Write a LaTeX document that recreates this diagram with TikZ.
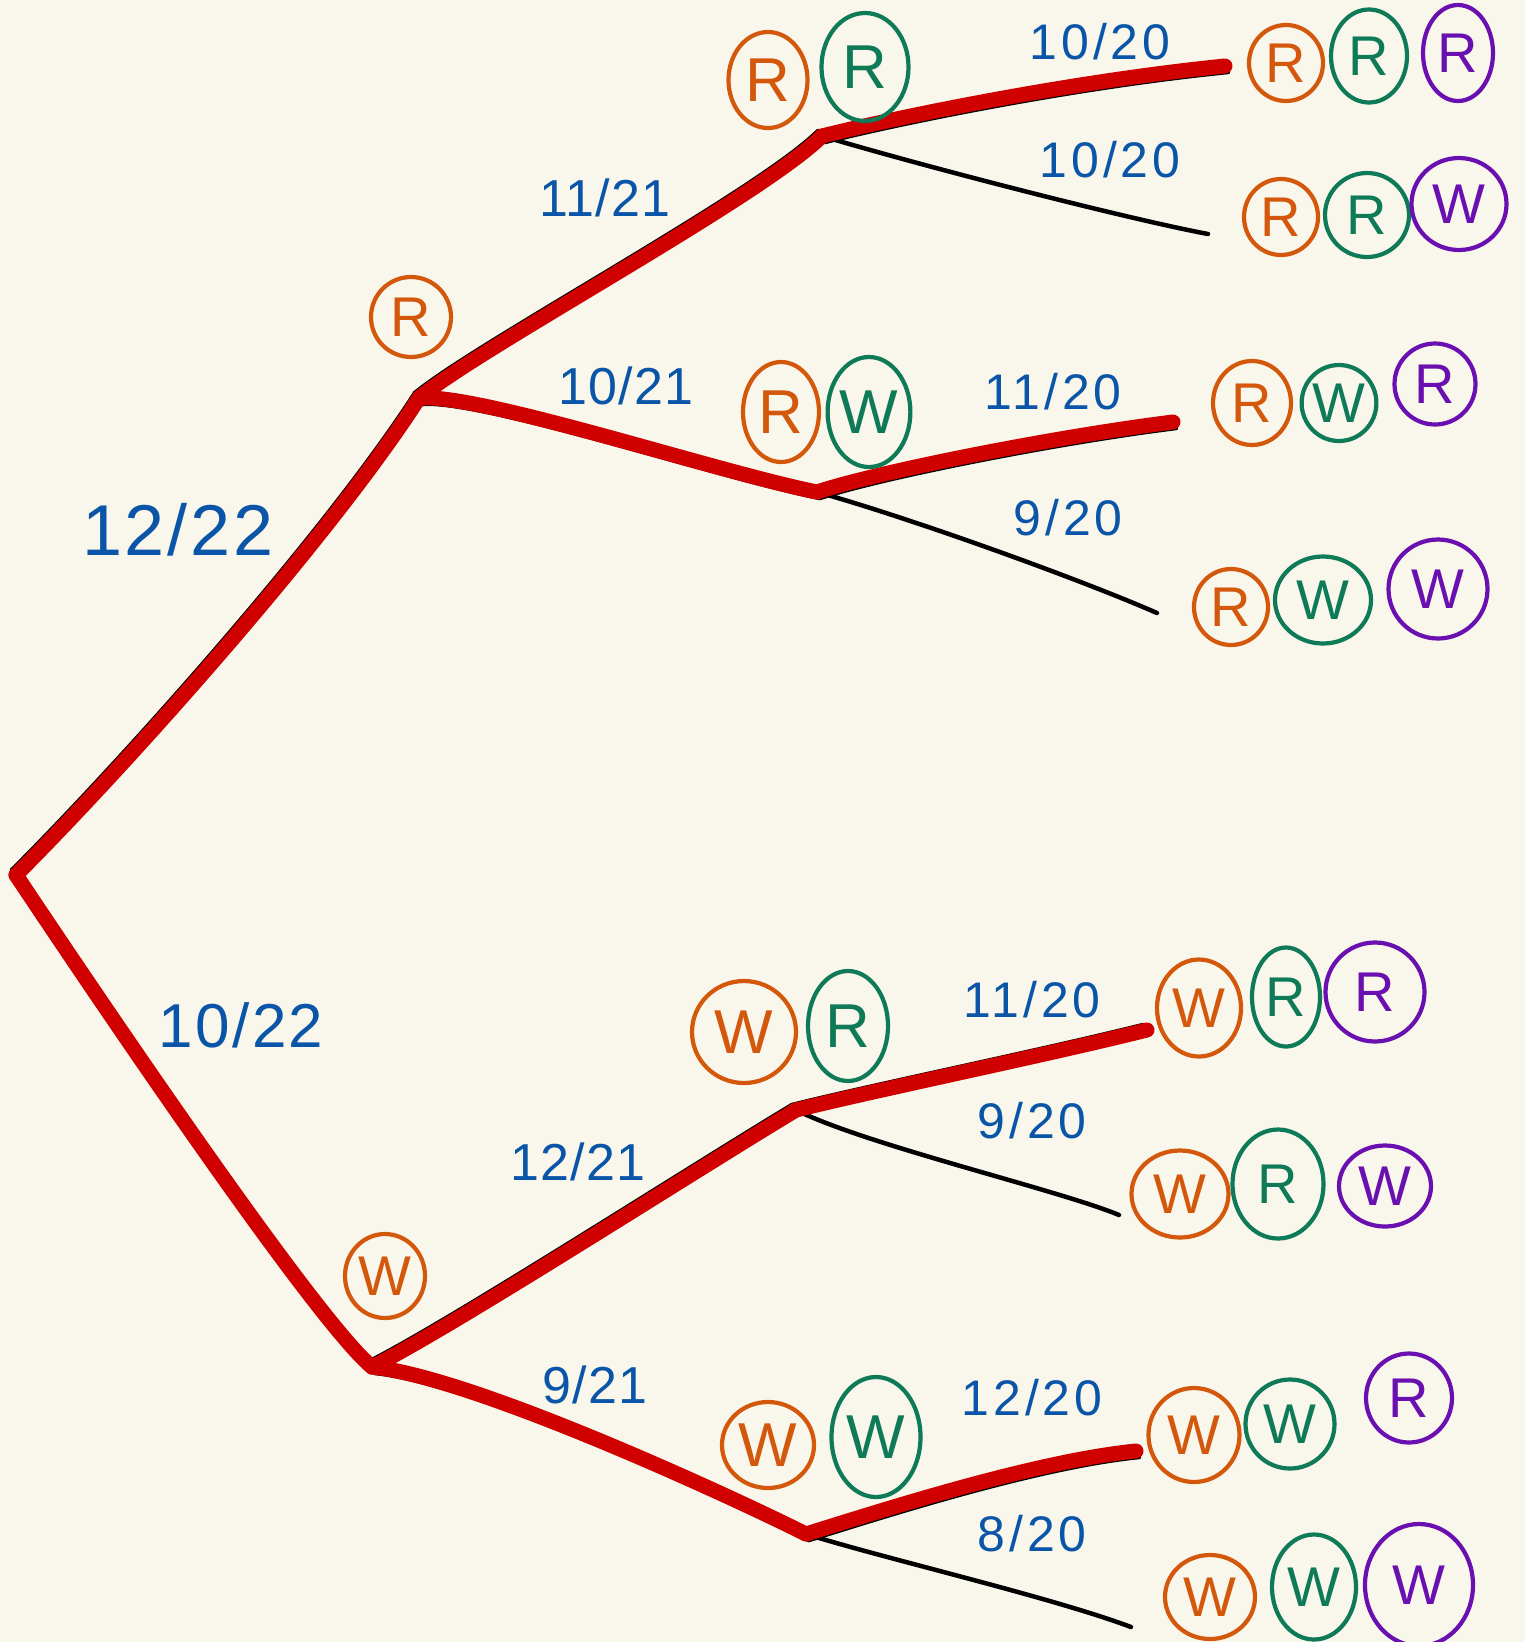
\documentclass[tikz,border=0pt]{standalone}
\usepackage{fontspec}
\setmainfont{Liberation Sans}
\usetikzlibrary{shapes.geometric}
\definecolor{bg}{HTML}{F9F7EB}
\definecolor{ora}{HTML}{D4580C}
\definecolor{grn}{HTML}{0E7A58}
\definecolor{pur}{HTML}{6A10B0}
\definecolor{blu}{HTML}{0A55A8}
\definecolor{redl}{HTML}{D10000}
\begin{document}
\begin{tikzpicture}[x=1pt,y=-1pt,
  ball/.style={ellipse, draw, line width=4.2pt, inner sep=0pt, minimum width=80pt, minimum height=90pt, font=\fontsize{56}{56}\selectfont},
  oball/.style={ball, draw=ora, text=ora},
  gball/.style={ball, draw=grn, text=grn},
  pball/.style={ball, draw=pur, text=pur},
  bigball/.style={font=\fontsize{62}{62}\selectfont},
  blackline/.style={draw=black, line width=4.5pt, line cap=round, line join=round},
  redline/.style={draw=redl, line width=15pt, line cap=round, line join=round},
  prob/.style={text=blu, inner sep=0pt, font=\fontsize{50}{50}\selectfont\addfontfeature{LetterSpace=8}},
  bigprob/.style={prob, font=\fontsize{72}{72}\selectfont\addfontfeature{LetterSpace=4}},
  midprob/.style={prob, font=\fontsize{52}{52}\selectfont\addfontfeature{LetterSpace=2}},
]
\fill[bg] (0,0) rectangle (1525,1642);
\useasboundingbox (0,0) rectangle (1525,1642);

% branch points and ends
\coordinate (root) at (16,875);
\coordinate (A) at (419,398);
\coordinate (B) at (372,1367);
\coordinate (RR) at (822,136);
\coordinate (RW) at (817,492);
\coordinate (WR) at (796,1110);
\coordinate (WW) at (806,1534);
\coordinate (eRRR) at (1225,66);
\coordinate (eRRW) at (1208,234);
\coordinate (eRWR) at (1173,422);
\coordinate (eRWW) at (1157,613);
\coordinate (eWRR) at (1147,1030);
\coordinate (eWRW) at (1119,1215);
\coordinate (eWWR) at (1136,1451);
\coordinate (eWWW) at (1131,1627);

% thin black branches under the red ones
\begin{scope}[transform canvas={shift={(-4pt,5pt)}}]
\draw[blackline] (root) .. controls +(110,-110) and +(-90,140) .. (A);
\draw[blackline] (A) .. controls +(60,-50) and +(-60,60) .. (RR);
\draw[blackline] (root) .. controls +(60,90) and +(-60,-50) .. (B);
\draw[blackline] (B) .. controls +(80,-40) and +(-100,60) .. (WR);
\draw[blackline] (WR) .. controls +(80,-20) and +(-100,25) .. (eWRR);
\end{scope}
\begin{scope}[transform canvas={shift={(3pt,-6pt)}}]
\draw[blackline] (A) .. controls +(60,-5) and +(-100,-20) .. (RW);
\draw[blackline] (RR) .. controls +(80,-20) and +(-150,15) .. (eRRR);
\draw[blackline] (RW) .. controls +(60,-20) and +(-120,15) .. (eRWR);
\draw[blackline] (B) .. controls +(100,10) and +(-80,-40) .. (WW);
\draw[blackline] (WW) .. controls +(80,-25) and +(-100,10) .. (eWWR);
\end{scope}
% black-only branches
\draw[blackline] (RR) .. controls +(100,30) and +(-80,-15) .. (eRRW);
\draw[blackline] (RW) .. controls +(90,25) and +(-80,-35) .. (eRWW);
\draw[blackline] (WR) .. controls +(70,35) and +(-60,-25) .. (eWRW);
\draw[blackline] (WW) .. controls +(80,25) and +(-80,-30) .. (eWWW);

% red highlighted paths
\draw[redline] (root) .. controls +(110,-110) and +(-90,140) .. (A);
\draw[redline] (A) .. controls +(60,-50) and +(-60,60) .. (RR);
\draw[redline] (A) .. controls +(60,-5) and +(-100,-20) .. (RW);
\draw[redline] (RR) .. controls +(80,-20) and +(-150,15) .. (eRRR);
\draw[redline] (RW) .. controls +(60,-20) and +(-120,15) .. (eRWR);
\draw[redline] (root) .. controls +(60,90) and +(-60,-50) .. (B);
\draw[redline] (B) .. controls +(80,-40) and +(-100,60) .. (WR);
\draw[redline] (B) .. controls +(100,10) and +(-80,-40) .. (WW);
\draw[redline] (WR) .. controls +(80,-20) and +(-100,25) .. (eWRR);
\draw[redline] (WW) .. controls +(80,-25) and +(-100,10) .. (eWWR);

% first level
\node[oball, minimum width=80pt, minimum height=80pt] (c1R) at (411,317) {R};
\node[oball, minimum width=80pt, minimum height=84pt] (c1W) at (385,1276) {W};

% second level
\node[oball, bigball, minimum width=79pt, minimum height=96pt] (cRR1) at (768,80) {R};
\node[gball, bigball, minimum width=87pt, minimum height=108pt] (cRR2) at (865,67) {R};
\node[oball, bigball, minimum width=76pt, minimum height=100pt] (cRW1) at (781,412) {R};
\node[gball, bigball, minimum width=80pt, minimum height=110pt] (cRW2) at (869,412) {W};
\node[oball, bigball, minimum width=104pt, minimum height=102pt] (cWR1) at (744,1032) {W};
\node[gball, bigball, minimum width=80pt, minimum height=110pt] (cWR2) at (848,1026) {R};
\node[oball, bigball, minimum width=92pt, minimum height=86pt] (cWW1) at (768,1445) {W};
\node[gball, bigball, minimum width=89pt, minimum height=120pt] (cWW2) at (876,1437) {W};

% third level
\node[oball, minimum width=74pt, minimum height=76pt] (RRR1) at (1286,63) {R};
\node[gball, minimum width=76pt, minimum height=93pt] (RRR2) at (1369,56) {R};
\node[pball, minimum width=70pt, minimum height=96pt] (RRR3) at (1458,53) {R};

\node[oball, minimum width=74pt, minimum height=76pt] (RRW1) at (1281,217) {R};
\node[gball, minimum width=84pt, minimum height=84pt] (RRW2) at (1367,215) {R};
\node[pball, minimum width=95pt, minimum height=92pt] (RRW3) at (1459,204) {W};

\node[oball, minimum width=78pt, minimum height=84pt] (RWR1) at (1252,403) {R};
\node[gball, minimum width=74pt, minimum height=76pt] (RWR2) at (1339,403) {W};
\node[pball, minimum width=81pt, minimum height=81pt] (RWR3) at (1435,384) {R};

\node[oball, minimum width=74pt, minimum height=76pt] (RWW1) at (1231,607) {R};
\node[gball, minimum width=96pt, minimum height=87pt] (RWW2) at (1323,600) {W};
\node[pball, minimum width=99pt, minimum height=99pt] (RWW3) at (1438,589) {W};

\node[oball, minimum width=84pt, minimum height=97pt] (WRR1) at (1199,1008) {W};
\node[gball, minimum width=68pt, minimum height=99pt] (WRR2) at (1286,997) {R};
\node[pball, minimum width=99pt, minimum height=99pt] (WRR3) at (1375,992) {R};

\node[oball, minimum width=97pt, minimum height=87pt] (WRW1) at (1180,1194) {W};
\node[gball, minimum width=91pt, minimum height=109pt] (WRW2) at (1278,1184) {R};
\node[pball, minimum width=92pt, minimum height=81pt] (WRW3) at (1385,1186) {W};

\node[oball, minimum width=91pt, minimum height=94pt] (WWR1) at (1194,1435) {W};
\node[gball, minimum width=89pt, minimum height=89pt] (WWR2) at (1290,1424) {W};
\node[pball, minimum width=86pt, minimum height=89pt] (WWR3) at (1409,1398) {R};

\node[oball, minimum width=90pt, minimum height=84pt] (WWW1) at (1210,1597) {W};
\node[gball, minimum width=84pt, minimum height=105pt] (WWW2) at (1314,1587) {W};
\node[pball, minimum width=108pt, minimum height=122pt] (WWW3) at (1419,1585) {W};

% probabilities
\node[bigprob] (p1) at (178,530) {12/22};
\node[bigprob, font=\fontsize{62}{62}\selectfont\addfontfeature{LetterSpace=4}] (p2) at (241,1025) {10/22};
\node[midprob] (p3) at (605,198) {11/21};
\node[midprob] (p4) at (626,386) {10/21};
\node[midprob] (p5) at (578,1162) {12/21};
\node[midprob] (p6) at (595,1385) {9/21};
\node[prob] (p7) at (1100,42) {10/20};
\node[prob] (p8) at (1110,160) {10/20};
\node[prob] (p9) at (1053,392) {11/20};
\node[prob] (p10) at (1068,518) {9/20};
\node[prob] (p11) at (1032,1000) {11/20};
\node[prob] (p12) at (1032,1121) {9/20};
\node[prob] (p13) at (1032,1398) {12/20};
\node[prob] (p14) at (1032,1534) {8/20};
\end{tikzpicture}
\end{document}
